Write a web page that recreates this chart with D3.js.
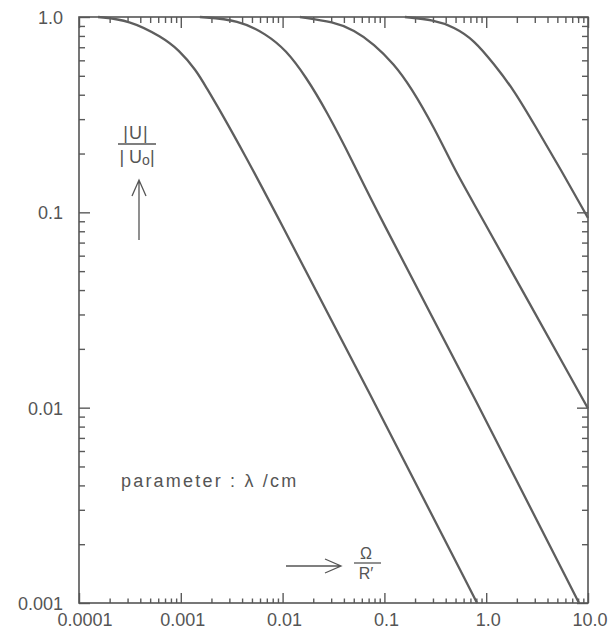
<!DOCTYPE html>
<html>
<head>
<meta charset="utf-8">
<script src="https://cdn.jsdelivr.net/npm/d3@7"></script>
<style>
  html, body { margin: 0; padding: 0; background: #fff; }
  svg { display: block; }
  .lbl { font-family: "Liberation Sans", Arial, sans-serif; fill: #555; }
  .axis path { display: none; }
  .axis line { stroke: #5a5a5a; stroke-width: 1.4; }
  .axis text { display: none; }
</style>
</head>
<body>
<svg id="chart" width="616" height="635"></svg>
<script>
// values: [omega/R', |U|/|U0|]
const curveA = [[1.54e-4, 1.0], [3.1e-4, 0.965], [6.53e-4, 0.79], [9.59e-4, 0.678], [1.41e-3, 0.535],
  [1.77e-3, 0.438], [2.54e-3, 0.319], [4.36e-3, 0.192], [7.34e-3, 0.1156], [0.0826, 0.0103], [0.813, 0.001]];
const curveB = [[1.54e-3, 1.0], [3.73e-3, 0.965], [6.87e-3, 0.818], [0.0108, 0.678], [0.017, 0.493],
  [0.0267, 0.334], [0.0502, 0.177], [0.0738, 0.1156], [0.794, 0.01094], [8.16, 0.001]];
const curveC = [[0.0148, 1.0], [0.032, 0.943], [0.0502, 0.858], [0.0791, 0.727], [0.124, 0.575],
  [0.182, 0.438], [0.307, 0.273], [0.516, 0.157], [0.726, 0.1156], [10, 0.0099]];
const curveD = [[0.159, 1.0], [0.307, 0.965], [0.483, 0.889], [0.759, 0.763], [1.19, 0.575],
  [1.87, 0.423], [2.95, 0.283], [5.43, 0.165], [10, 0.0935]];
const curves = [curveA, curveB, curveC, curveD];

const xTickValues = [1e-4, 1e-3, 1e-2, 1e-1, 1, 10];
const xTickLabels = ["0.0001", "0.001", "0.01", "0.1", "1.0", "10.0"];
const yTickValues = [1, 0.1, 0.01, 0.001];
const yTickLabels = ["1.0", "0.1", "0.01", "0.001"];

const svg = d3.select("#chart");
const mLeft = 79, mRight = 588, mTop = 17, mBottom = 603;

const x = d3.scaleLog().domain([1e-4, 10]).range([mLeft, mRight]);
const y = d3.scaleLog().domain([0.001, 1]).range([mBottom, mTop]);

// minor ticks 2..9 in every decade
function minors(vals) {
  let out = [];
  for (let i = 0; i < vals.length - 1; i++) {
    let d = Math.min(vals[i], vals[i + 1]);
    for (let k = 2; k <= 9; k++) out.push(k * d);
  }
  return out;
}
const xMinor = minors(xTickValues), yMinor = minors(yTickValues);

function addAxis(axisFn, scale, vals, size, tr) {
  svg.append("g").attr("class", "axis")
    .attr("transform", tr)
    .call(axisFn(scale).tickValues(vals).tickSize(-size).tickFormat(""));
}
// ticks point into the plot
addAxis(d3.axisBottom, x, xMinor, 4.5, `translate(0,${mBottom})`);
addAxis(d3.axisBottom, x, xTickValues, 10, `translate(0,${mBottom})`);
addAxis(d3.axisTop, x, xMinor, 6, `translate(0,${mTop})`);
addAxis(d3.axisTop, x, xTickValues, 11, `translate(0,${mTop})`);
addAxis(d3.axisLeft, y, yMinor, 6, `translate(${mLeft},0)`);
addAxis(d3.axisLeft, y, yTickValues, 11, `translate(${mLeft},0)`);
addAxis(d3.axisRight, y, yMinor, 6, `translate(${mRight},0)`);
addAxis(d3.axisRight, y, yTickValues, 11, `translate(${mRight},0)`);

svg.append("rect")
  .attr("x", mLeft).attr("y", mTop)
  .attr("width", mRight - mLeft).attr("height", mBottom - mTop)
  .attr("fill", "none").attr("stroke", "#555").attr("stroke-width", 1.6);

const line = d3.line()
  .x(d => x(d[0]))
  .y(d => y(d[1]))
  .curve(d3.curveBasis);

svg.append("g").selectAll("path")
  .data(curves)
  .join("path")
  .attr("d", line)
  .attr("fill", "none")
  .attr("stroke", "#5e5e5e")
  .attr("stroke-width", 2.3);

// tick labels
svg.append("g").selectAll("text")
  .data(xTickValues)
  .join("text")
  .attr("class", "lbl")
  .attr("x", (d, i) => x(d) + (i == 0 ? 6 : 2))
  .attr("y", 626)
  .attr("text-anchor", "middle")
  .attr("font-size", 18)
  .text((d, i) => xTickLabels[i]);

svg.append("g").selectAll("text")
  .data(yTickValues)
  .join("text")
  .attr("class", "lbl")
  .attr("x", 63)
  .attr("y", d => y(d) + 7)
  .attr("text-anchor", "end")
  .attr("font-size", 18)
  .text((d, i) => yTickLabels[i]);

// y axis title: |U| / |U0| with arrow
const yt = svg.append("g").attr("class", "lbl").attr("font-size", 18);
yt.append("text").attr("x", 136).attr("y", 139).attr("text-anchor", "middle")
  .attr("letter-spacing", 1).text("|U|");
yt.append("line").attr("x1", 118).attr("x2", 156).attr("y1", 144).attr("y2", 144)
  .attr("stroke", "#555").attr("stroke-width", 1.3);
const u0 = yt.append("text").attr("x", 137).attr("y", 163).attr("text-anchor", "middle");
u0.append("tspan").text("| U");
u0.append("tspan").attr("font-size", 14).attr("dy", 2).text("o");
u0.append("tspan").attr("dy", -2).text("|");
yt.append("path").attr("d", "M139,240 V180 M132,196 L139,180 L146,196")
  .attr("fill", "none").attr("stroke", "#555").attr("stroke-width", 1.3);

// x axis title: -> Omega / R'
const xt = svg.append("g").attr("class", "lbl").attr("font-size", 16);
xt.append("path").attr("d", "M286,566 H341 M325,559 L341,566 L325,573")
  .attr("fill", "none").attr("stroke", "#555").attr("stroke-width", 1.3);
xt.append("text").attr("x", 366).attr("y", 559).attr("text-anchor", "middle").text("Ω");
xt.append("line").attr("x1", 354).attr("x2", 381).attr("y1", 563).attr("y2", 563)
  .attr("stroke", "#555").attr("stroke-width", 1.3);
xt.append("text").attr("x", 366).attr("y", 579).attr("text-anchor", "middle").text("R′");

svg.append("text").attr("class", "lbl")
  .attr("x", 121).attr("y", 487)
  .attr("font-size", 18)
  .attr("letter-spacing", 2.2)
  .text("parameter : λ /cm");
</script>
</body>
</html>
